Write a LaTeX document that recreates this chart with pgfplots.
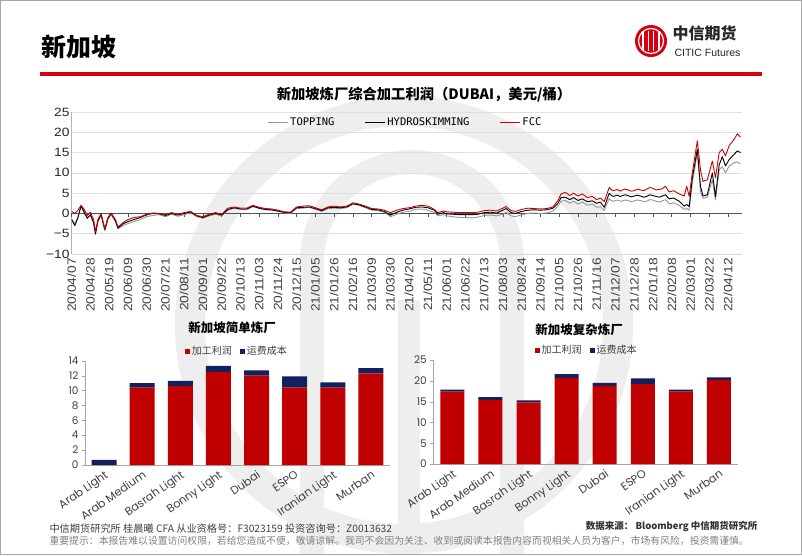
\documentclass[border=0pt]{standalone}
\usepackage{pgfplots}
\pgfplotsset{compat=1.18}
\usepackage{pgfplotstable}
\usepackage{fontspec}
\setmainfont{Liberation Sans}
\newfontfamily\tickfont{Liberation Sans}[FakeStretch=1.15]
\newfontfamily\cjk{Noto Sans CJK SC}
\newfontfamily\gothic{Poppins}
\newfontfamily\mono{DejaVu Sans Mono}

\definecolor{citicred}{RGB}{215,0,15}
\definecolor{barred}{RGB}{192,0,0}
\definecolor{barnavy}{RGB}{18,32,96}
\definecolor{fccred}{RGB}{205,0,0}
\definecolor{topgray}{RGB}{150,150,150}
\definecolor{zeroc}{RGB}{68,84,106}
\definecolor{wm}{RGB}{238,238,238}

% weekly index from 2020/04/07, USD/bbl
\pgfplotstableread{
w     top   hyd   fcc
0     -1.5  -1.5   0.5
0.5   -2.5  -3.0   0.0
1     -1.0  -1.0   0.8
1.5    1.8   1.9   2.0
2      0.5   0.2   1.0
2.5   -1.0  -1.2  -0.5
3     -0.5  -0.3   0.3
3.5   -2.5  -2.2  -1.5
3.8   -5.2  -5.0  -4.5
4.2   -2.0  -1.8  -1.5
4.7   -0.5  -0.2   0.0
5.3   -4.2  -4.0  -3.8
5.8   -1.5  -1.2  -1.0
6.3   -0.3   0.0   0.1
7.0   -2.0  -1.8  -1.5
7.4   -3.8  -3.6  -3.3
8.2   -3.0  -2.6  -2.3
9     -2.5  -2.0  -1.5
10    -2.0  -1.5  -1.0
11    -1.5  -1.0  -0.8
12    -0.8  -0.3  -0.2
13    -0.5   0.0   0.1
14    -0.3  -0.1   0.0
15    -0.8  -0.5  -0.3
16    -0.2   0.0   0.2
17    -0.7  -0.4  -0.3
18    -0.3   0.0   0.2
19     0.2   0.4   0.5
20    -0.8  -0.6  -0.5
21    -1.2  -1.0  -0.8
22    -0.6  -0.4  -0.2
23    -0.2   0.0   0.2
24    -0.6  -0.4  -0.2
25     0.8   1.0   1.3
26     1.3   1.4   1.6
27     1.0   1.1   1.3
28     0.9   1.1   1.3
29     1.7   1.8   2.0
30     1.2   1.3   1.5
31     0.9   1.0   1.2
32     0.8   0.9   1.1
33     0.5   0.6   0.8
34     0.2   0.3   0.4
35     0.0   0.2   0.3
36     1.2   1.4   1.6
37     1.3   1.5   1.8
38     1.5   1.6   1.9
39     1.0   1.2   1.4
40     0.5   0.7   0.9
41     1.2   1.4   1.6
42     1.3   1.5   1.8
43     1.2   1.4   1.6
44     1.4   1.6   1.8
45     2.3   2.4   2.6
46     2.0   2.1   2.3
47     1.4   1.6   1.8
48     0.8   1.0   1.2
49     0.7   0.9   1.1
50     0.3   0.5   0.8
51    -0.8  -0.4   0.2
52    -0.2   0.3   0.8
53     0.3   0.8   1.2
54     0.5   1.1   1.4
55     1.0   1.5   1.8
56     1.1   1.6   2.0
57     0.8   1.4   1.8
58     0.2   0.8   1.0
58.6  -0.6  -0.2   0.2
59.5  -0.3   0.2   0.6
60    -0.6  -0.1   0.4
61    -0.8  -0.2   0.3
62    -1.0  -0.3   0.2
63    -1.0  -0.3   0.2
64    -1.1  -0.3   0.2
65    -0.9  -0.2   0.3
66    -0.5   0.2   0.7
67    -0.4   0.3   0.8
68    -0.6   0.1   0.6
69    -0.2   0.8   1.3
69.5   0.3   1.2   1.7
70.3  -0.6   0.2   0.7
71    -0.8   0.0   0.5
72    -0.3   0.5   1.0
73     0.0   0.8   1.3
74     0.1   0.9   1.2
75     0.0   0.8   1.1
76     0.1   0.9   1.2
77     0.6   1.3   1.6
77.8   1.8   2.5   3.2
78.3   3.0   3.9   4.8
79     3.2   4.0   5.2
79.7   2.5   3.4   4.4
80.3   3.0   3.9   5.0
81     2.3   3.2   4.3
81.7   2.8   3.6   4.8
82.5   2.0   2.9   3.9
83.3   2.3   3.1   4.2
84     1.5   2.5   3.4
84.6   1.7   2.8   3.8
85.2   0.7   1.5   2.9
86     3.7   5.0   6.4
86.3   3.2   4.5   5.9
86.6   3.0   4.2   5.6
87.3   3.3   4.5   5.9
87.7   3.1   4.2   5.5
88     3.0   4.3   5.7
88.5   3.3   4.6   6.0
89     3.2   4.4   5.8
89.5   2.9   4.1   5.5
90     3.1   4.3   5.6
90.5   3.3   4.5   6.0
91     3.2   4.3   5.8
91.5   2.9   4.0   5.6
92     3.0   4.2   6.0
92.5   3.4   4.6   6.4
93     3.3   4.4   6.2
93.5   3.0   4.2   5.8
94     2.8   4.0   5.9
94.5   3.1   4.3   6.1
95     3.4   4.6   6.7
95.6   2.4   3.6   5.3
96.3   2.6   3.8   5.6
97.2   2.0   3.0   4.8
98     1.0   1.8   4.3
98.4   1.2   2.2   6.7
98.8   0.8   1.7   4.2
99.3   7.5   8.8  10.0
100.1 15.0  15.8  17.9
100.6  5.5   6.7  10.8
101    3.7   4.3   7.9
101.7  4.0   4.6   8.3
102.5  8.3  10.0  12.9
103    3.3   4.2   8.8
103.6 10.8  12.0  15.0
104.1 11.5  14.0  15.8
104.6 10.0  11.7  14.2
105.2 11.7  13.3  16.7
106   12.5  14.6  18.3
106.5 12.7  15.4  19.6
107   12.2  15.0  18.8
}\margins

\pgfplotstableread{
x profit freight
0  0.0  0.7
1 10.4  0.6
2 10.6  0.7
3 12.5  0.8
4 12.0  0.7
5 10.4  1.5
6 10.4  0.7
7 12.3  0.7
}\simple

\pgfplotstableread{
x profit freight
0 17.4  0.5
1 15.4  0.7
2 14.8  0.5
3 20.7  0.9
4 18.8  0.7
5 19.2  1.4
6 17.4  0.5
7 20.2  0.6
}\complex

\pgfplotsset{
  barchart/.style={
    scale only axis, anchor=south west,
    xmin=-0.5, xmax=7.5, ymin=0,
    ybar stacked,
    axis lines*=left,
    axis line style={draw=gray!70, line width=0.8pt},
    xtick={0,...,7},
    xticklabels={Arab Light, Arab Medium, Basrah Light, Bonny Light, Dubai, ESPO, Iranian Light, Murban},
    xtick style={draw=none},
    ytick style={draw=gray!70},
    tick align=outside, major tick length=3pt,
    /pgf/number format/assume math mode=true,
    xticklabel style={rotate=35, anchor=north east, inner sep=1pt,
      font=\gothic\fontsize{11.3}{12}\selectfont, text=black!75},
    yticklabel style={font=\gothic\fontsize{10.5}{11}\selectfont, text=black!75},
    legend style={draw=none, fill=none, legend columns=2,
      font=\cjk\fontsize{10}{12}\selectfont, text=black!75,
      /tikz/every even column/.append style={column sep=6pt}},
    legend image code/.code={\fill[##1] (0pt,-2.6pt) rectangle (5pt,2.4pt);},
  },
}

\begin{document}
\begin{tikzpicture}
\path[use as bounding box, fill=white] (0,0) rectangle (802pt,-555pt);

% watermark
\begin{scope}
\clip (1pt,-1pt) rectangle (801pt,-554pt);
\draw[wm, line width=30pt] (404pt,-325pt) circle (214pt);
\draw[wm, line width=24pt] (312pt,-560pt) -- (312pt,-262pt) arc (180:0:100pt) -- (512pt,-560pt);
\fill[wm] (398pt,-300pt) rectangle (420pt,-560pt);
\end{scope}
\draw[gray!70, line width=1pt] (0.5pt,-0.5pt) rectangle (801.5pt,-554.5pt);

% header
\node[anchor=west, font=\cjk\bfseries\fontsize{25}{25}\selectfont] at (38pt,-47pt) {新加坡};
\fill[citicred] (40pt,-72pt) rectangle (762pt,-75.5pt);
\fill[citicred] (651pt,-41pt) circle (16pt);
\foreach \dx in {-8,-2.7,2.7,8} \draw[white, line width=1.5pt] (651pt+\dx pt,-31pt) -- (651pt+\dx pt,-51pt);
\draw[white, line width=1.2pt] (651pt,-41pt) circle (12.5pt);
\node[anchor=west, font=\cjk\bfseries\fontsize{16}{16}\selectfont, text=black!85] at (669pt,-33pt) {中信期货};
\node[anchor=west, font=\fontsize{10.5}{11}\selectfont, text=black!85] at (671pt,-53pt) {CITIC Futures};

% main chart
\node[font=\cjk\bfseries\fontsize{14.3}{14}\selectfont] at (424pt,-95pt) {新加坡炼厂综合加工利润（DUBAI，美元/桶）};

\begin{axis}[
  at={(71.7pt,-254pt)}, anchor=south west, scale only axis,
  width=670pt, height=142pt,
  xmin=0, xmax=107.2, ymin=-10, ymax=25,
  axis x line*=bottom, axis y line*=left,
  x axis line style={draw=gray!30, line width=0.7pt},
  y axis line style={draw=gray!60, line width=0.8pt},
  xtick={0,3,...,105},
  xticklabels={20/04/07,20/04/28,20/05/19,20/06/09,20/06/30,20/07/21,20/08/11,20/09/01,20/09/22,20/10/13,20/11/03,20/11/24,20/12/15,21/01/05,21/01/26,21/02/16,21/03/09,21/03/30,21/04/20,21/05/11,21/06/01,21/06/22,21/07/13,21/08/03,21/08/24,21/09/14,21/10/05,21/10/26,21/11/16,21/12/07,21/12/28,22/01/18,22/02/08,22/03/01,22/03/22,22/04/12},
  xtick style={draw=none},
  ytick={-10,-5,...,25},
  yticklabels={−10,−5,0,5,10,15,20,25},
  ytick style={draw=none},
  ymajorgrids, grid style={draw=gray!25, line width=0.7pt},
  xticklabel style={rotate=90, anchor=east, inner sep=0pt, xshift=-4pt,
    font=\tickfont\fontsize{12}{12}\selectfont, text=black!75},
  yticklabel style={font=\tickfont\fontsize{12}{12}\selectfont, text=black!85, inner sep=2pt},
]
\end{axis}

\begin{axis}[
  at={(71.7pt,-254pt)}, anchor=south west, scale only axis,
  width=670pt, height=142pt,
  xmin=0, xmax=107.2, ymin=-10, ymax=25,
  axis x line*=middle, axis y line=none,
  x axis line style={draw=zeroc, line width=1pt, -},
  xtick={0,3,...,105}, xticklabels={}, ytick=\empty,
  tick align=outside, major tick length=4pt,
  xtick style={draw=zeroc, line width=0.7pt},
  legend style={at={(0.498,0.93)}, anchor=center, draw=none, fill=none,
    legend columns=3, font=\mono\fontsize{10.5}{12}\selectfont,
    /tikz/every even column/.append style={column sep=28pt}},
  legend image code/.code={\draw[#1] (0pt,0pt) -- (20pt,0pt);},
]
\addplot[topgray, line width=0.9pt, mark=none, line join=round] table[x=w, y=top] {\margins};
\addplot[black, line width=0.9pt, mark=none, line join=round] table[x=w, y=hyd] {\margins};
\addplot[fccred, line width=0.9pt, mark=none, line join=round] table[x=w, y=fcc] {\margins};
\legend{TOPPING, HYDROSKIMMING, FCC}
\end{axis}

% simple refinery
\node[font=\cjk\bfseries\fontsize{12.5}{13}\selectfont] at (232pt,-328pt) {新加坡简单炼厂};
\begin{axis}[barchart,
  at={(85pt,-465pt)}, width=305pt, height=104.3pt,
  ymax=14, ytick={0,2,...,14}, bar width=25pt,
  legend style={at={(0.498,1.093)}, anchor=center},
]
\addplot[fill=barred, draw=none] table[x=x, y=profit] {\simple};
\addplot[fill=barnavy, draw=none] table[x=x, y=freight] {\simple};
\legend{加工利润, 运费成本}
\end{axis}

% complex refinery
\node[font=\cjk\bfseries\fontsize{12.5}{13}\selectfont] at (579pt,-330pt) {新加坡复杂炼厂};
\begin{axis}[barchart,
  at={(433.3pt,-464pt)}, width=304.7pt, height=104pt,
  ymax=25, ytick={0,5,...,25}, bar width=24pt,
  legend style={at={(0.503,1.096)}, anchor=center},
]
\addplot[fill=barred, draw=none] table[x=x, y=profit] {\complex};
\addplot[fill=barnavy, draw=none] table[x=x, y=freight] {\complex};
\legend{加工利润, 运费成本}
\end{axis}

% footer
\node[anchor=west, font=\cjk\fontsize{10.2}{11}\selectfont, text=black!75] at (46pt,-529pt)
  {中信期货研究所 桂晨曦 CFA 从业资格号：F3023159 投资咨询号：Z0013632};
\node[anchor=east, font=\cjk\bfseries\fontsize{9.5}{10}\selectfont, text=black!80] at (761pt,-527pt)
  {数据来源： Bloomberg 中信期货研究所};
\node[anchor=west, font=\cjk\fontsize{9.85}{10}\selectfont, text=black!50] at (46pt,-541pt)
  {重要提示：本报告难以设置访问权限，若给您造成不便，敬请谅解。我司不会因为关注、收到或阅读本报告内容而视相关人员为客户，市场有风险，投资需谨慎。};
\end{tikzpicture}
\end{document}
